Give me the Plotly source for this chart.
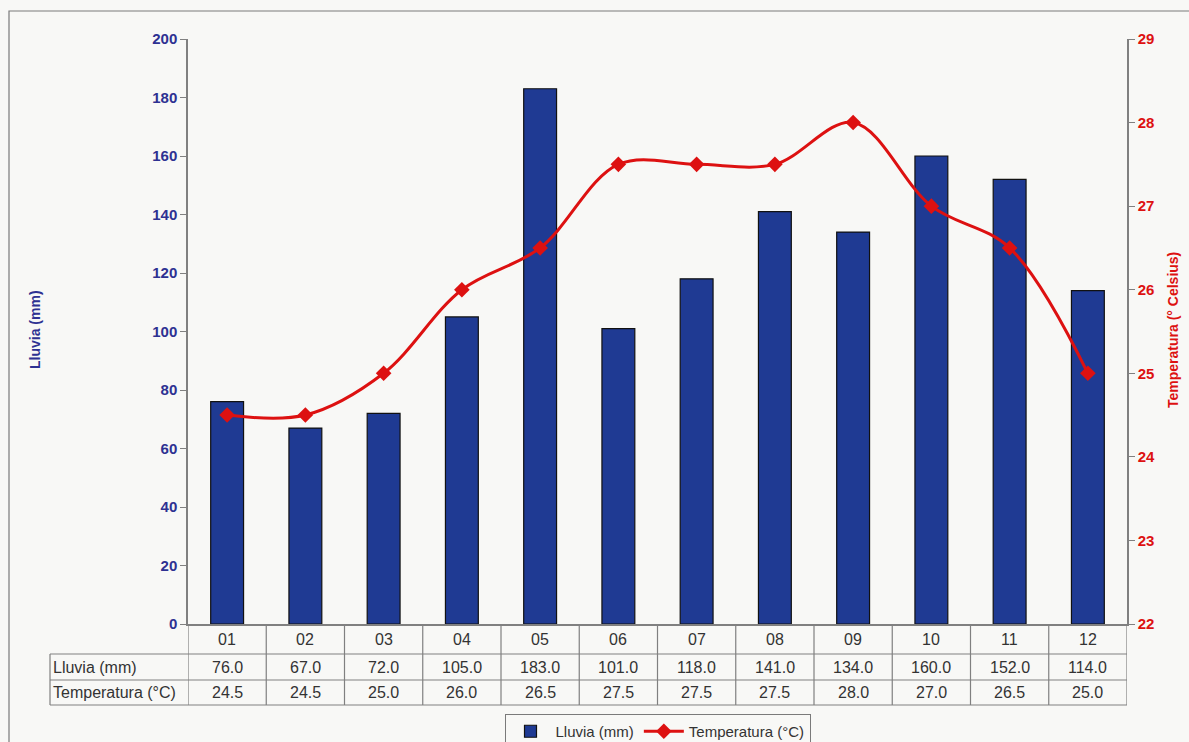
import plotly.graph_objects as go

months = ["01", "02", "03", "04", "05", "06", "07", "08", "09", "10", "11", "12"]
lluvia = [76.0, 67.0, 72.0, 105.0, 183.0, 101.0, 118.0, 141.0, 134.0, 160.0, 152.0, 114.0]
temperatura = [24.5, 24.5, 25.0, 26.0, 26.5, 27.5, 27.5, 27.5, 28.0, 27.0, 26.5, 25.0]
row_labels = ["Lluvia (mm)", "Temperatura (°C)"]

W, H = 1189, 742
L, R, T, B = 188, 62, 39, 118
PW, PH = W - L - R, H - T - B

def px(xp):
    return (xp - L) / PW

def py(yp):
    return (H - B - yp) / PH

BLUE = "#1f3a93"
NAVY_TXT = "#2e3192"
RED = "#dd1111"
GRID = "#808080"
TXT = "#333333"
BG = "#f8f8f6"
FONT = "Liberation Sans, Arial, sans-serif"

xs = list(range(len(months)))

fig = go.Figure()
fig.add_trace(go.Bar(
    x=xs, y=lluvia, name="Lluvia (mm)", width=0.42,
    marker=dict(color=BLUE, line=dict(color="#111111", width=1.2)),
    yaxis="y",
))
fig.add_trace(go.Scatter(
    x=xs, y=temperatura, name="Temperatura (°C)", mode="lines+markers",
    line=dict(color=RED, width=3, shape="spline", smoothing=1.0),
    marker=dict(symbol="diamond", size=12, color=RED),
    yaxis="y2",
))

shapes = []
annotations = []

# outer frame
shapes.append(dict(type="rect", xref="paper", yref="paper",
                   x0=px(9), x1=px(1200), y0=py(760), y1=py(11),
                   line=dict(color="#7a7a7a", width=1.2), fillcolor="rgba(0,0,0,0)", layer="below"))

# table rows
row_y = [624, 654, 680, 705]
for yv in row_y[1:]:
    shapes.append(dict(type="line", xref="paper", yref="paper",
                       x0=px(50), x1=1, y0=py(yv), y1=py(yv),
                       line=dict(color=GRID, width=1.2)))
# vertical separators
for k in range(len(months) + 1):
    shapes.append(dict(type="line", xref="x", yref="paper",
                       x0=k - 0.5, x1=k - 0.5, y0=py(705), y1=py(624),
                       line=dict(color=GRID, width=1.2)))
shapes.append(dict(type="line", xref="paper", yref="paper",
                   x0=px(50), x1=px(50), y0=py(705), y1=py(654),
                   line=dict(color=GRID, width=1.2)))

def mid(a, b):
    return py((a + b) / 2)

tfont = dict(size=16, color=TXT, family=FONT)
for k, m in enumerate(months):
    annotations.append(dict(x=k, y=mid(624, 654), xref="x", yref="paper", text=m,
                            xanchor="center", yanchor="middle", showarrow=False, font=tfont))
    annotations.append(dict(x=k, y=mid(654, 680), xref="x", yref="paper", text=f"{lluvia[k]:.1f}",
                            xanchor="center", yanchor="middle", showarrow=False, font=tfont))
    annotations.append(dict(x=k, y=mid(680, 705), xref="x", yref="paper", text=f"{temperatura[k]:.1f}",
                            xanchor="center", yanchor="middle", showarrow=False, font=tfont))
annotations.append(dict(x=px(51), y=mid(654, 680), xref="paper", yref="paper", text=row_labels[0],
                        xanchor="left", yanchor="middle", showarrow=False, font=tfont))
annotations.append(dict(x=px(51), y=mid(680, 705), xref="paper", yref="paper", text=row_labels[1],
                        xanchor="left", yanchor="middle", showarrow=False, font=tfont))

# axis titles
annotations.append(dict(x=px(35), y=py(330), xref="paper", yref="paper", text="<b>Lluvia (mm)</b>",
                        xanchor="center", yanchor="middle",
                        textangle=-90, showarrow=False, font=dict(size=14, color=NAVY_TXT, family=FONT)))
annotations.append(dict(x=px(1173), y=py(330), xref="paper", yref="paper", text="<b>Temperatura (° Celsius)</b>",
                        xanchor="center", yanchor="middle",
                        textangle=-90, showarrow=False, font=dict(size=14, color=RED, family=FONT)))

fig.update_layout(
    width=W, height=H,
    margin=dict(l=L, r=R, t=T, b=B, autoexpand=False),
    paper_bgcolor=BG, plot_bgcolor=BG,
    showlegend=True,
    legend=dict(orientation="h", x=0.5, xanchor="center", y=py(714), yanchor="top",
                bordercolor="#7a7a7a", borderwidth=1, bgcolor=BG,
                font=dict(size=15, color=TXT, family=FONT), traceorder="normal",
                itemwidth=40),
    xaxis=dict(range=[-0.5, len(months) - 0.5], showticklabels=False, ticks="",
               showline=True, linecolor=GRID, linewidth=1.5, showgrid=False, zeroline=False,
               fixedrange=True),
    yaxis=dict(range=[0, 200], dtick=20, showgrid=False, zeroline=False,
               showline=True, linecolor=GRID, linewidth=1.5, mirror=True,
               ticks="outside", ticklen=6, tickcolor=GRID,
               tickfont=dict(size=15, color=NAVY_TXT, family=FONT, weight="bold")),
    yaxis2=dict(range=[22, 29], dtick=1, overlaying="y", side="right", showgrid=False,
                zeroline=False, showline=True, linecolor=GRID, linewidth=1.5,
                ticks="outside", ticklen=6, tickcolor=GRID,
                tickfont=dict(size=15, color=RED, family=FONT, weight="bold")),
    shapes=shapes,
    annotations=annotations,
)

fig.write_html("out.html", config={"displayModeBar": False},
               post_script="document.body.style.margin='0';document.body.style.overflow='hidden';")
